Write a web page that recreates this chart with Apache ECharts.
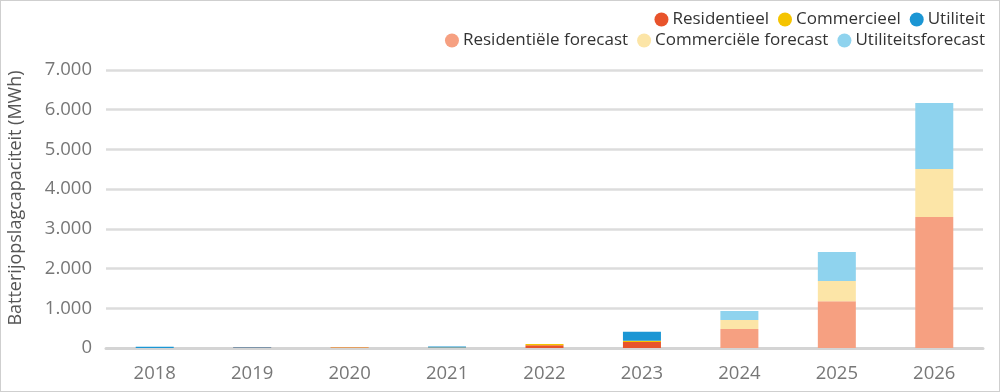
<!DOCTYPE html>
<html><head><meta charset="utf-8">
<script src="https://cdn.jsdelivr.net/npm/echarts@6/dist/echarts.min.js"></script>
<style>
html,body{margin:0;padding:0;background:#fff;}
#c{width:998px;height:390px;border:1px solid #cfcfcf;}
</style></head>
<body><div id="c"></div>
<script>
const categories = ['2018','2019','2020','2021','2022','2023','2024','2025','2026'];
const residentieel = [0, 10, 15, 5, 70, 150, 0, 0, 0];
const commercieel = [0, 5, 5, 10, 30, 30, 0, 0, 0];
const utiliteit = [30, 10, 0, 20, 0, 230, 0, 0, 0];
const resForecast = [0, 0, 0, 0, 0, 0, 480, 1180, 3300];
const comForecast = [0, 0, 0, 0, 0, 0, 225, 510, 1210];
const utilForecast = [0, 0, 0, 0, 0, 0, 225, 730, 1660];
const yTicks = [0, 1000, 2000, 3000, 4000, 5000, 6000, 7000];

const names = ['Residentieel','Commercieel','Utiliteit','Residentiële forecast','Commerciële forecast','Utiliteitsforecast'];
const colors = ['#E8532B','#F5C400','#1B96D4','#F6A081','#FCE5A7','#8FD3EE'];
const datas = [residentieel, commercieel, utiliteit, resForecast, comForecast, utilForecast];

const font = 'Open Sans';
const chart = echarts.init(document.getElementById('c'));
const legendText = {fontSize: 17, color: '#333', fontFamily: font, padding: [0,0,0,-1]};
chart.setOption({
  animation: false,
  textStyle: {fontFamily: font},
  legend: [
    {data: names.slice(0,3), right: 9, top: 5, icon: 'circle', itemWidth: 14, itemHeight: 14, itemGap: 9, textStyle: legendText},
    {data: names.slice(3), right: 9, top: 26, icon: 'circle', itemWidth: 14, itemHeight: 14, itemGap: 9, textStyle: legendText}
  ],
  graphic: [{
    type: 'text', x: 15, y: 197, rotation: Math.PI / 2,
    style: {text: 'Batterijopslagcapaciteit (MWh)', fontSize: 18, fontFamily: font, fill: '#555',
            align: 'center', verticalAlign: 'middle'}
  }],
  grid: {left: 105, right: 16, top: 69, bottom: 43},
  xAxis: {
    type: 'category', data: categories,
    axisLine: {show: true, lineStyle: {color: '#d4d4d4', width: 3}},
    axisTick: {show: false},
    axisLabel: {fontSize: 18.5, color: '#777', margin: 16, fontFamily: font}
  },
  yAxis: {
    type: 'value', min: yTicks[0], max: yTicks[yTicks.length-1], interval: 1000,
    axisLine: {show: false}, axisTick: {show: false},
    axisLabel: {fontSize: 18.5, color: '#777', margin: 14, fontFamily: font,
      formatter: v => String(v).replace(/\B(?=(\d{3})+(?!\d))/g, '.')},
    splitLine: {lineStyle: {color: '#dcdcdc', width: 2.5}}
  },
  series: names.map((n, i) => ({
    name: n, type: 'bar', stack: 'total', data: datas[i], barWidth: 38,
    itemStyle: {color: colors[i]}
  }))
});
</script></body></html>
